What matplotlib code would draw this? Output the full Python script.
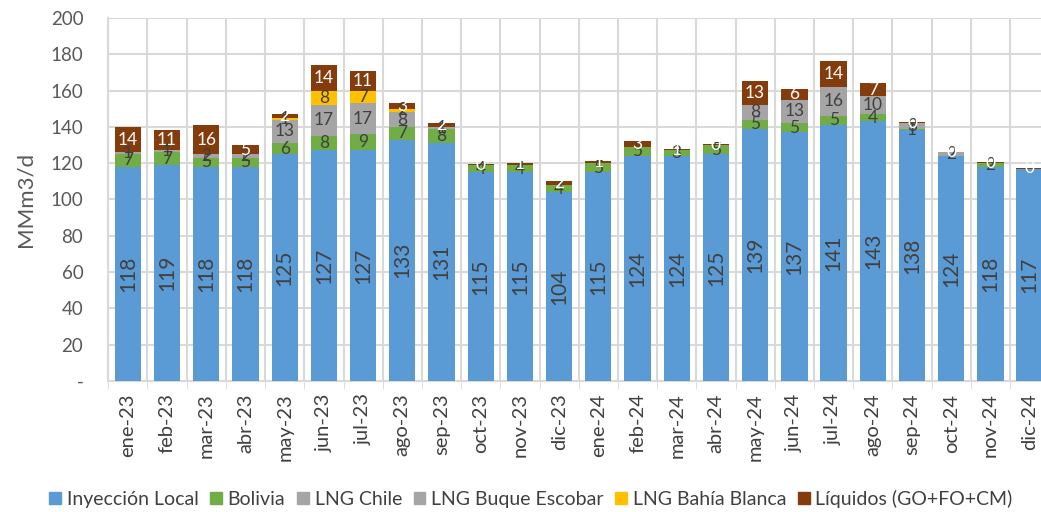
import numpy as np
import matplotlib
matplotlib.use('Agg')
import matplotlib.pyplot as plt
from matplotlib.patches import Patch

plt.rcParams['font.family'] = ['Lato', 'DejaVu Sans']

# datos (MMm3/d)
months = ['ene-23', 'feb-23', 'mar-23', 'abr-23', 'may-23', 'jun-23', 'jul-23', 'ago-23',
          'sep-23', 'oct-23', 'nov-23', 'dic-23', 'ene-24', 'feb-24', 'mar-24', 'abr-24',
          'may-24', 'jun-24', 'jul-24', 'ago-24', 'sep-24', 'oct-24', 'nov-24', 'dic-24']
local = [118, 119, 118, 118, 125, 127, 127, 133, 131, 115, 115, 104,
         115, 124, 124, 125, 139, 137, 141, 143, 138, 124, 118, 117]
bolivia = [7, 7, 5, 5, 6, 8, 9, 7, 8, 4, 4, 4,
           5, 5, 3, 5, 5, 5, 5, 4, 1, 0, 2, 0]
lng_chile = [1, 1, 2, 2, 0, 0, 0, 0, 1, 0, 0, 0,
             0, 0, 0, 0, 0, 0, 0, 0, 0, 2, 0, 0]
lng_escobar = [0, 0, 0, 0, 13, 17, 17, 8, 0, 0, 0, 0,
               0, 0, 0, 0, 8, 13, 16, 10, 3, 0, 0, 0]
lng_bahia = [0, 0, 0, 0, 1, 8, 7, 2, 0, 0, 0, 0,
             0, 0, 0, 0, 0, 0, 0, 0, 0, 0, 0, 0]
liquidos = [14, 11, 16, 5, 2, 14, 11, 3, 2, 0.4, 1, 2,
            1, 3, 1, 0.4, 13, 6, 14, 7, 0.4, 0.4, 0.4, 0.4]

series = [('Inyección Local', local, '#5B9BD5', '#404040'),
          ('Bolivia', bolivia, '#70AD47', '#404040'),
          ('LNG Chile', lng_chile, '#A5A5A5', '#404040'),
          ('LNG Buque Escobar', lng_escobar, '#A5A5A5', '#404040'),
          ('LNG Bahía Blanca', lng_bahia, '#FFC000', '#404040'),
          ('Líquidos (GO+FO+CM)', liquidos, '#843C0C', 'white')]

fig = plt.figure(figsize=(10.41, 5.12), dpi=100)
ax = fig.add_axes([0.104, 0.256, 0.896, 0.709])

x = np.arange(len(months))
bottom = np.zeros(len(months))
for i, (name, vals, col, tcol) in enumerate(series):
    vals = np.array(vals, dtype=float)
    ax.bar(x, vals, 0.67, bottom=bottom, color=col, zorder=3, label=name)
    for xi, v, b in zip(x, vals, bottom):
        if v <= 0:
            continue
        if i == 0:
            ax.text(xi, b + v / 2, '%d' % round(v), rotation=90, ha='center', va='center',
                    fontsize=15, color=tcol, zorder=4)
        else:
            ax.text(xi, b + v / 2, '%d' % round(v), ha='center', va='center',
                    fontsize=12.5, color=tcol, zorder=4)
    bottom += vals

ax.set_yticks(np.arange(0, 201, 20))
ax.set_yticklabels(['-'] + [str(v) for v in range(20, 201, 20)])
ax.set_xticks(x)
ax.set_xticklabels(months, rotation=90)
ax.set_xticks(np.arange(-0.5, 24, 1), minor=True)
ax.set_ylim(0, 200)
ax.set_xlim(-0.5, 23.29)
ax.tick_params(axis='x', which='major', length=0, labelsize=14.5, colors='#404040', pad=9)
ax.tick_params(axis='x', which='minor', length=6, color='#D9D9D9')
ax.tick_params(axis='y', length=0, labelsize=13.5, colors='#595959', pad=18)
ax.set_ylabel('MMm3/d', fontsize=16, color='#595959', labelpad=11)

ax.grid(axis='y', color='#D9D9D9', linewidth=1.5, zorder=0)
ax.grid(axis='x', which='minor', color='#D9D9D9', linewidth=1.5, zorder=0)
for s in ['top', 'right']:
    ax.spines[s].set_visible(False)
ax.spines['left'].set_color('#D9D9D9')
ax.spines['bottom'].set_color('#D9D9D9')
ax.spines['left'].set_linewidth(1.5)
ax.spines['bottom'].set_linewidth(1.5)

handles = [Patch(color=c) for _, _, c, _ in series]
fig.legend(handles, [s[0] for s in series], loc='center', bbox_to_anchor=(0.510, 0.026),
           ncol=6, frameon=False, fontsize=14, handlelength=0.6, handleheight=0.6,
           handletextpad=0.3, columnspacing=0.6, labelcolor='#404040')

fig.savefig('out.png', dpi=100)
